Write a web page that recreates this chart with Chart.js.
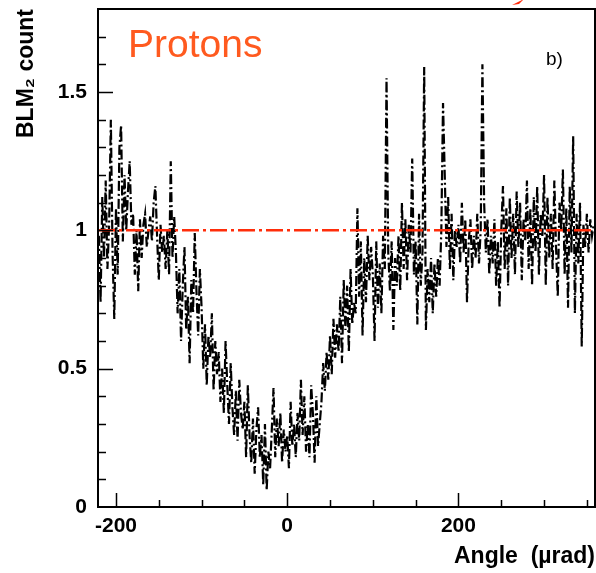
<!DOCTYPE html>
<html><head><meta charset="utf-8">
<script src="https://cdn.jsdelivr.net/npm/chart.js@4.4.1/dist/chart.umd.min.js"></script>
<style>html,body{margin:0;padding:0;background:#fff}canvas{display:block}</style>
</head><body>
<canvas id="c" width="596" height="573"></canvas>
<script>
// Angle bins (µrad)
const angles = [
-220,-218,-216,-214,-212,-210,-208,-206,-204,-202,
-200,-198,-196,-194,-192,-190,-188,-186,-184,-182,
-180,-178,-176,-174,-172,-170,-168,-166,-164,-162,
-160,-158,-156,-154,-152,-150,-148,-146,-144,-142,
-140,-138,-136,-134,-132,-130,-128,-126,-124,-122,
-120,-118,-116,-114,-112,-110,-108,-106,-104,-102,
-100,-98,-96,-94,-92,-90,-88,-86,-84,-82,
-80,-78,-76,-74,-72,-70,-68,-66,-64,-62,
-60,-58,-56,-54,-52,-50,-48,-46,-44,-42,
-40,-38,-36,-34,-32,-30,-28,-26,-24,-22,
-20,-18,-16,-14,-12,-10,-8,-6,-4,-2,
0,2,4,6,8,10,12,14,16,18,
20,22,24,26,28,30,32,34,36,38,
40,42,44,46,48,50,52,54,56,58,
60,62,64,66,68,70,72,74,76,78,
80,82,84,86,88,90,92,94,96,98,
100,102,104,106,108,110,112,114,116,118,
120,122,124,126,128,130,132,134,136,138,
140,142,144,146,148,150,152,154,156,158,
160,162,164,166,168,170,172,174,176,178,
180,182,184,186,188,190,192,194,196,198,
200,202,204,206,208,210,212,214,216,218,
220,222,224,226,228,230,232,234,236,238,
240,242,244,246,248,250,252,254,256,258,
260,262,264,266,268,270,272,274,276,278,
280,282,284,286,288,290,292,294,296,298,
300,302,304,306,308,310,312,314,316,318,
320,322,324,326,328,330,332,334,336,338,
340,342,344,346,348,350,352,354,356,358
];
// BLM2 count (normalised)
const blmCounts = [
0.98,0.74,1.12,0.90,1.18, 0.86,1.02,1.40,0.92,0.68,
1.08,0.84,1.30,1.38,0.96, 1.20,1.00,1.14,1.25,1.02,
1.06,0.84,1.00,0.78,1.04, 0.90,1.02,1.06,0.94,1.00,
1.05,0.96,1.10,1.16,0.98, 0.82,1.02,0.92,0.98,0.86,
1.00,0.84,1.25,0.90,1.05, 0.92,0.70,0.86,0.60,0.80,
0.94,0.64,0.76,0.52,0.82, 0.70,0.99,0.78,0.62,0.86,
0.72,0.50,0.66,0.44,0.62, 0.54,0.70,0.42,0.60,0.48,
0.56,0.38,0.50,0.34,0.60, 0.44,0.30,0.52,0.36,0.26,
0.42,0.24,0.46,0.34,0.28, 0.38,0.18,0.44,0.26,0.16,
0.32,0.12,0.28,0.36,0.18, 0.26,0.08,0.30,0.06,0.20,
0.14,0.28,0.43,0.18,0.32, 0.22,0.34,0.16,0.28,0.20,
0.26,0.14,0.38,0.22,0.30, 0.18,0.34,0.24,0.46,0.26,
0.40,0.20,0.30,0.18,0.44, 0.34,0.16,0.40,0.22,0.30,
0.38,0.52,0.42,0.56,0.46, 0.62,0.48,0.68,0.54,0.66,
0.56,0.76,0.52,0.82,0.64, 0.80,0.56,0.86,0.66,0.74,
0.70,1.08,0.76,0.96,0.62, 0.90,0.74,0.98,0.82,0.94,
0.84,0.60,0.96,0.72,0.88, 0.70,0.98,0.86,1.55,0.92,
0.78,0.96,0.64,0.90,0.80, 0.98,0.78,1.10,0.86,1.04,
0.82,1.02,0.92,1.26,0.84, 0.96,0.66,1.06,0.80,0.92,
1.59,0.64,0.86,0.74,0.90, 0.70,0.88,0.76,0.90,0.80,
1.00,1.46,1.20,0.94,1.12, 0.86,1.06,0.82,1.00,0.94,
1.02,0.88,1.10,0.92,1.04, 0.74,0.96,1.04,0.86,0.98,
0.90,1.06,0.88,1.00,1.60, 1.10,0.92,1.04,0.84,0.98,
0.88,1.04,0.80,0.96,0.72, 1.00,1.16,0.86,1.08,0.80,
1.12,0.90,1.06,0.84,1.14, 0.94,1.10,0.82,1.04,0.96,
1.18,0.86,1.08,0.80,1.12, 0.92,1.16,0.84,1.06,0.98,
1.20,0.80,1.12,0.90,1.06, 0.86,1.18,0.94,0.76,1.10,
1.00,1.22,0.84,1.08,0.72, 1.16,0.92,1.34,0.70,1.06,
0.88,1.10,0.58,1.02,0.94, 1.06,0.92,1.04,0.98,1.02
];
// Reference level line
const refAngles = [-221, 360];
const refLevel = [1, 1];
// Axis labels
const xTickValues = [-200, 0, 200];
const xTickLabels = ['-200', '0', '200'];
const yTickValues = [0, 0.5, 1, 1.5];
const yTickLabels = ['0', '0.5', '1', '1.5'];

const lineData = angles.map((a, i) => ({x: a, y: blmCounts[i]}));
const refData = refAngles.map((a, i) => ({x: a, y: refLevel[i]}));

function labelFor(v, vals, labs) {
  for (let i = 0; i < vals.length; i++) if (Math.abs(v - vals[i]) < 1e-6) return labs[i];
  return '';
}

const decor = {
  id: 'decor',
  afterDatasetsDraw(chart) {
    const ctx = chart.ctx, ca = chart.chartArea;
    const xs = chart.scales.x, ys = chart.scales.y;
    ctx.save();
    ctx.strokeStyle = '#000';
    ctx.lineWidth = 1.5;
    ctx.beginPath();
    xs.ticks.forEach(t => {
      const px = Math.round(xs.getPixelForValue(t.value)) + 0.5;
      if (px < ca.left + 1 || px > ca.right - 1) return;
      const major = labelFor(t.value, xTickValues, xTickLabels) !== '';
      const len = major ? 14 : 7;
      ctx.moveTo(px, ca.bottom);
      ctx.lineTo(px, ca.bottom - len);
    });
    ys.ticks.forEach(t => {
      const py = Math.round(ys.getPixelForValue(t.value)) + 0.5;
      if (py < ca.top + 1 || py > ca.bottom - 1) return;
      const major = labelFor(t.value, yTickValues, yTickLabels) !== '';
      const len = major ? 15 : 8;
      ctx.moveTo(ca.left, py);
      ctx.lineTo(ca.left + len, py);
    });
    ctx.stroke();
    // frame
    ctx.lineWidth = 2;
    ctx.strokeRect(ca.left, ca.top, ca.right - ca.left, ca.bottom - ca.top);
    // annotations
    ctx.fillStyle = '#ff5a1f';
    ctx.font = '39px "Liberation Sans", Arial, sans-serif';
    ctx.textBaseline = 'alphabetic';
    ctx.textAlign = 'left';
    ctx.fillText('Protons', 128, 57);
    ctx.fillStyle = '#000';
    ctx.font = '19px "Liberation Sans", Arial, sans-serif';
    ctx.fillText('b)', 546, 65);
    // red arrow fragment at top
    ctx.fillStyle = '#ff2a0a';
    ctx.beginPath();
    ctx.moveTo(512, 5);
    ctx.lineTo(524, -1);
    ctx.lineTo(519, 4);
    ctx.closePath();
    ctx.fill();
    ctx.restore();
  }
};

new Chart(document.getElementById('c'), {
  type: 'line',
  data: {
    datasets: [
      {
        data: refData,
        borderColor: '#ff2d0a',
        borderWidth: 2.5,
        borderDash: [17, 4, 3, 4],
        pointRadius: 0,
        fill: false,
        order: 0
      },
      {
        data: lineData,
        borderColor: '#000',
        borderWidth: 2.2,
        borderDash: [10, 3, 2, 3],
        pointRadius: 0,
        tension: 0,
        fill: false,
        order: 1
      }
    ]
  },
  options: {
    responsive: false,
    animation: false,
    layout: {padding: {top: 9, right: 1, left: 0, bottom: 0}},
    plugins: {legend: {display: false}, tooltip: {enabled: false}},
    scales: {
      x: {
        type: 'linear',
        min: -221,
        max: 359.5,
        grid: {display: false, drawTicks: false},
        border: {display: false},
        afterFit(s) { s.height = 66; s.paddingLeft = 0; s.paddingRight = 0; },
        ticks: {
          stepSize: 50,
          includeBounds: false,
          autoSkip: false,
          maxRotation: 0,
          padding: 7,
          color: '#000',
          font: {family: '"Liberation Sans", Arial, sans-serif', size: 21, weight: 'bold'},
          callback: v => labelFor(v, xTickValues, xTickLabels)
        },
        title: {
          display: true,
          text: 'Angle  (µrad)',
          align: 'end',
          color: '#000',
          padding: {top: 0, bottom: 3},
          font: {family: '"Liberation Sans", Arial, sans-serif', size: 23, weight: 'bold'}
        }
      },
      y: {
        min: 0,
        max: 1.8,
        grid: {display: false, drawTicks: false},
        border: {display: false},
        afterFit(s) { s.width = 98; s.paddingTop = 0; s.paddingBottom = 0; },
        ticks: {
          stepSize: 0.1,
          includeBounds: false,
          autoSkip: false,
          padding: 11,
          color: '#000',
          font: {family: '"Liberation Sans", Arial, sans-serif', size: 21, weight: 'bold'},
          callback: v => labelFor(v, yTickValues, yTickLabels)
        },
        title: {
          display: true,
          text: 'BLM₂ count',
          align: 'end',
          color: '#000',
          padding: {top: 13, bottom: 0},
          font: {family: '"Liberation Sans", Arial, sans-serif', size: 23, weight: 'bold'}
        }
      }
    }
  },
  plugins: [decor]
});
</script>
</body></html>
